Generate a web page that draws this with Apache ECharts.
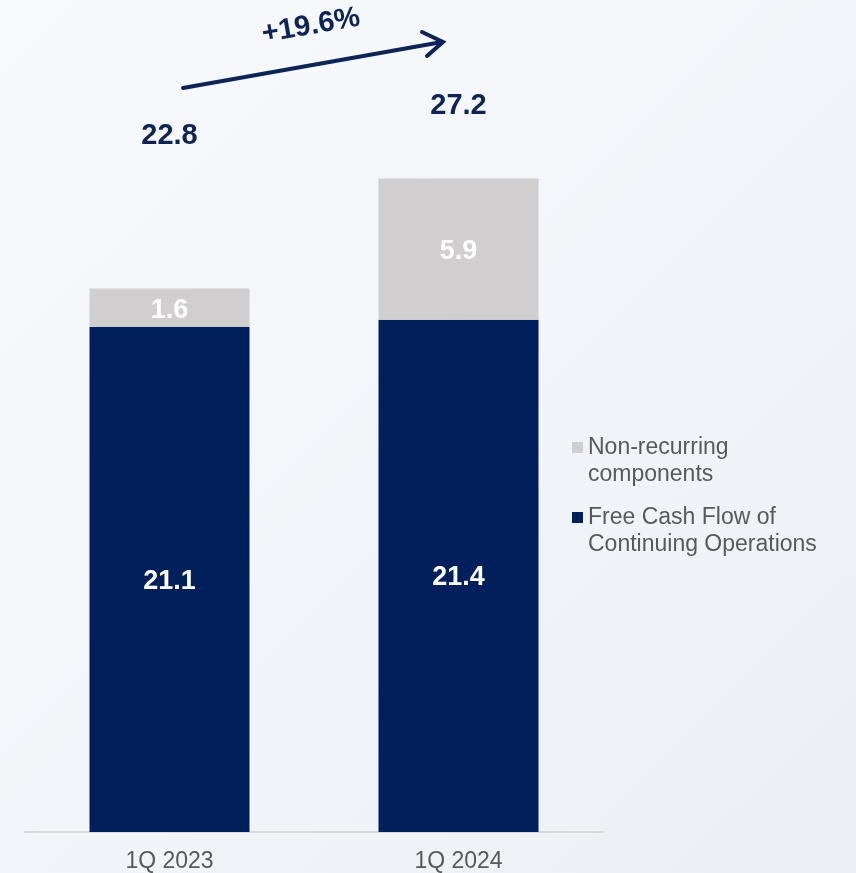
<!DOCTYPE html>
<html>
<head>
<meta charset="utf-8">
<script src="https://cdn.jsdelivr.net/npm/echarts@6/dist/echarts.min.js"></script>
<style>html,body{margin:0;padding:0;}#c{width:856px;height:873px;}</style>
</head>
<body>
<div id="c"></div>
<script>
const categories = ['1Q 2023', '1Q 2024'];
const fcfValues = [21.1, 21.4];
const nonRecurringValues = [1.6, 5.9];
const totals = [22.8, 27.2];
const growthLabel = '+19.6%';
const seriesNames = ['Free Cash Flow of\nContinuing Operations', 'Non-recurring\ncomponents'];

const NAVY = '#001F5B';
const GRAY = '#D0CECE';
const TXT = '#0E2456';
const FONT = 'Liberation Sans, Arial, sans-serif';

const chart = echarts.init(document.getElementById('c'), null, {renderer: 'canvas'});
const option = {
  backgroundColor: new echarts.graphic.LinearGradient(0, 0, 1, 1, [
    {offset: 0, color: '#F8FAFD'},
    {offset: 0.5, color: '#F2F5F9'},
    {offset: 1, color: '#EBEEF3'}
  ]),
  animation: false,
  grid: {left: 25, right: 253, top: 18, bottom: 41},
  legend: {
    orient: 'vertical', left: 572, top: 407, padding: 0,
    itemWidth: 11, itemHeight: 11, itemGap: -11, icon: 'rect',
    data: [seriesNames[1], seriesNames[0]],
    formatter: name => '\n' + name,
    textStyle: {fontSize: 23, lineHeight: 27, color: '#595959', fontFamily: FONT}
  },
  xAxis: {
    type: 'category', data: categories,
    axisTick: {show: false},
    axisLine: {lineStyle: {color: '#D9D9D9', width: 2}},
    axisLabel: {fontSize: 23, color: '#595959', fontFamily: FONT, margin: 18}
  },
  yAxis: {type: 'value', min: 0, max: 34, show: false, splitLine: {show: false}},
  series: [
    {
      name: seriesNames[0], type: 'bar', stack: 'a', barWidth: 160,
      data: fcfValues, itemStyle: {color: NAVY},
      label: {show: true, position: 'inside', offset: [0, 2], color: '#fff', fontSize: 27, fontWeight: 'bold', fontFamily: FONT}
    },
    {
      name: seriesNames[1], type: 'bar', stack: 'a', barWidth: 160,
      data: nonRecurringValues, itemStyle: {color: GRAY},
      label: {show: true, position: 'inside', offset: [0, 3], color: '#fff', fontSize: 27, fontWeight: 'bold', fontFamily: FONT}
    },
    {
      name: 'Total', type: 'scatter', symbolSize: 0, silent: true,
      itemStyle: {opacity: 1},
      data: totals.map((v, i) => ({
        value: v,
        label: {offset: [0, i === 0 ? -150 : -75]}
      })),
      label: {show: true, position: 'inside', color: TXT, fontSize: 29, fontWeight: 'bold', fontFamily: FONT,
        formatter: p => p.value.toFixed(1)}
    }
  ],
  graphic: [
    {type: 'line', shape: {x1: 183, y1: 88, x2: 442, y2: 42}, style: {stroke: TXT, lineWidth: 4, lineCap: 'round'}},
    {type: 'polyline', shape: {points: [[422, 32], [443, 42], [427, 56]]}, style: {stroke: TXT, lineWidth: 4, fill: null, lineCap: 'round', lineJoin: 'miter'}},
    {type: 'text', x: 311, y: 26, rotation: 10 * Math.PI / 180,
      style: {text: growthLabel, fill: TXT, font: 'bold 29px ' + FONT, align: 'center', verticalAlign: 'middle'}}
  ]
};
chart.setOption(option);
</script>
</body>
</html>
